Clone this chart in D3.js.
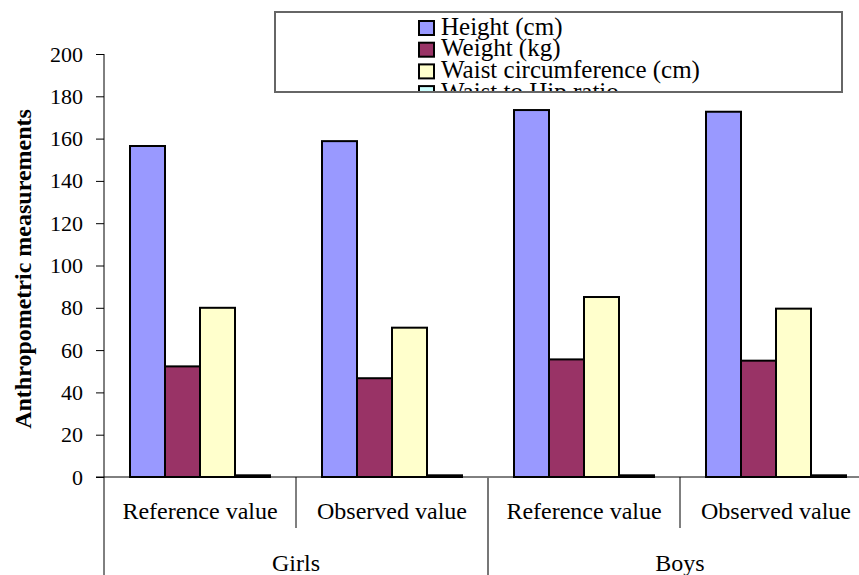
<!DOCTYPE html>
<html>
<head>
<meta charset="utf-8">
<script src="https://cdn.jsdelivr.net/npm/d3@7"></script>
<style>
  body { margin: 0; background: #fff; }
</style>
</head>
<body>
<div id="chart"></div>
<script>
// data
var groups = ["Girls", "Boys"];
var subgroups = ["Reference value", "Observed value"];
var series = ["Height (cm)", "Weight (kg)", "Waist circumference (cm)", "Waist to Hip ratio"];
var colors = ["#9999ff", "#993366", "#ffffcc", "#ccffff"];
var height_cm = [156.5, 158.8, 173.5, 172.7];
var weight_kg = [52.3, 46.7, 55.6, 55.0];
var waist_cm = [80.0, 70.6, 85.1, 79.6];
var waist_hip = [0.8, 0.8, 0.8, 0.8];
var yTicks = [0, 20, 40, 60, 80, 100, 120, 140, 160, 180, 200];

var FONT = "'Liberation Serif', 'Times New Roman', serif";
var W = 859, H = 575;
var svg = d3.select("#chart").append("svg")
  .attr("width", W).attr("height", H);

// build rows: one per group/subgroup
var rows = [];
groups.forEach(function(g, gi) {
  subgroups.forEach(function(s, si) {
    var i = gi * 2 + si;
    rows.push({group: g, sub: s,
      values: [height_cm[i], weight_kg[i], waist_cm[i], waist_hip[i]]});
  });
});

var x0 = d3.scaleBand().domain(groups).range([104, 872]);
var x1 = d3.scaleBand().domain(subgroups).range([0, x0.bandwidth()]);
var xs = d3.scaleBand().domain(series).range([26, 166]);
var y = d3.scaleLinear().domain([0, 200]).range([477, 54]);

// y axis
var yAxis = svg.append("g")
  .attr("transform", "translate(104,0)")
  .call(d3.axisLeft(y).tickValues(yTicks).tickSize(8).tickSizeOuter(0).tickPadding(13));
yAxis.select(".domain").remove();
yAxis.selectAll("line").attr("stroke", "#000");
yAxis.selectAll("text").attr("fill", "#000")
  .style("font-family", FONT).style("font-size", "22px");

// bars
var bar = svg.selectAll(".row").data(rows).enter().append("g")
  .attr("transform", function(d) { return "translate(" + (x0(d.group) + x1(d.sub)) + ",0)"; });
bar.selectAll("rect")
  .data(function(d) { return d.values.map(function(v, i) { return {s: series[i], v: v, c: colors[i]}; }); })
  .enter().append("rect")
  .attr("x", function(d) { return xs(d.s); })
  .attr("y", function(d) { return y(d.v); })
  .attr("width", xs.bandwidth())
  .attr("height", function(d) { return y(0) - y(d.v); })
  .attr("fill", function(d) { return d.c; })
  .attr("stroke", "#000")
  .attr("stroke-width", 2);

// axes lines
svg.append("line").attr("x1", 104).attr("x2", 104).attr("y1", 54).attr("y2", H)
  .attr("stroke", "#000").attr("stroke-width", 1);
svg.append("line").attr("x1", 96).attr("x2", W).attr("y1", 477).attr("y2", 477)
  .attr("stroke", "#000").attr("stroke-width", 1);

// category separators and labels
rows.forEach(function(d) {
  var left = x0(d.group) + x1(d.sub);
  if (d.sub === "Observed value") {
    svg.append("line").attr("x1", left).attr("x2", left).attr("y1", 477).attr("y2", 528)
      .attr("stroke", "#000").attr("stroke-width", 1);
  }
  svg.append("text").attr("x", left + x1.bandwidth() / 2).attr("y", 519)
    .attr("text-anchor", "middle")
    .style("font-family", FONT).style("font-size", "24px").text(d.sub);
});
groups.forEach(function(g, gi) {
  if (gi > 0) {
    svg.append("line").attr("x1", x0(g)).attr("x2", x0(g)).attr("y1", 477).attr("y2", H)
      .attr("stroke", "#777").attr("stroke-width", 2);
  }
  svg.append("text").attr("x", x0(g) + x0.bandwidth() / 2).attr("y", 571)
    .attr("text-anchor", "middle")
    .style("font-family", FONT).style("font-size", "24px").text(g);
});

// y title
svg.append("text")
  .attr("transform", "translate(31,269) rotate(-90)")
  .attr("text-anchor", "middle")
  .style("font-family", FONT).style("font-size", "24px").style("font-weight", "bold")
  .text("Anthropometric measurements");

// legend (clipped box)
svg.append("clipPath").attr("id", "legclip").append("rect")
  .attr("x", 275).attr("y", 12).attr("width", 567).attr("height", 80);
var leg = svg.append("g").attr("clip-path", "url(#legclip)");
leg.append("rect").attr("x", 275).attr("y", 12).attr("width", 567).attr("height", 80)
  .attr("fill", "#fff");
var li = leg.selectAll(".li").data(series).enter().append("g")
  .attr("transform", function(d, i) { return "translate(419," + (21 + i * 21.7) + ")"; });
li.append("rect").attr("width", 15).attr("height", 14)
  .attr("fill", function(d, i) { return colors[i]; })
  .attr("stroke", "#000").attr("stroke-width", 2);
li.append("text").attr("x", 22).attr("y", 13.5)
  .style("font-family", FONT).style("font-size", "25px").text(function(d) { return d; });
svg.append("rect").attr("x", 275).attr("y", 12).attr("width", 567).attr("height", 80)
  .attr("fill", "none").attr("stroke", "#666").attr("stroke-width", 2);
</script>
</body>
</html>
